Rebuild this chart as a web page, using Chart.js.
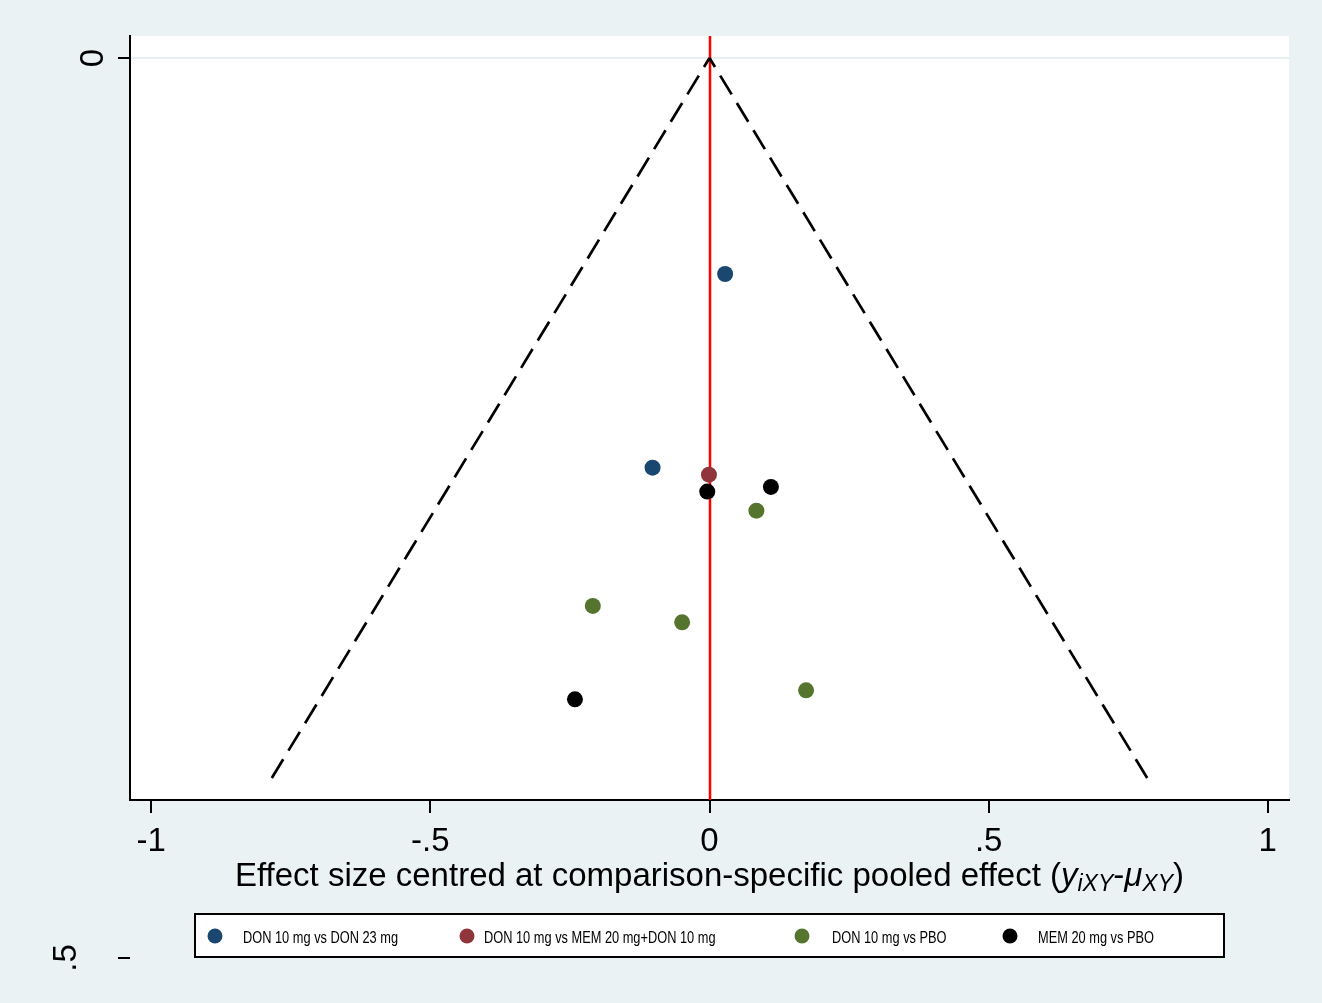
<!DOCTYPE html>
<html><head><meta charset="utf-8">
<script src="https://cdn.jsdelivr.net/npm/chart.js@4"></script>
<style>html,body{margin:0;padding:0;background:#eaf2f3;} canvas{display:block}</style>
</head><body>
<canvas id="c" width="1322" height="1003"></canvas>
<script>
// ---- data ----
const seriesLabels = ['DON 10 mg vs DON 23 mg', 'DON 10 mg vs MEM 20 mg+DON 10 mg', 'DON 10 mg vs PBO', 'MEM 20 mg vs PBO'];
const seriesColors = ['#1a476f', '#90353b', '#55752f', '#000000'];
const donDon23X = [0.028, -0.102];
const donDon23Y = [0.120, 0.2276];
const donMemX = [-0.001];
const donMemY = [0.2315];
const donPboX = [0.084, -0.209, -0.049, 0.173];
const donPboY = [0.2515, 0.3044, 0.3135, 0.3513];
const memPboX = [-0.004, 0.110, -0.241];
const memPboY = [0.2409, 0.2383, 0.3563];
const funnelLeftX = [-0.784, 0];
const funnelLeftY = [0.4, 0];
const funnelRightX = [0.784, 0];
const funnelRightY = [0.4, 0];
const refX = 0;
const xTickValues = [-1, -0.5, 0, 0.5, 1];
const xTickLabels = ['-1', '-.5', '0', '.5', '1'];
const yTickValues = [0, 0.5];
const yTickLabels = ['0', '.5'];
const xRange = [-1.038, 1.038];
const yRange = [-0.01222, 0.41222];
const titleParts = [
  {t: 'Effect size centred at comparison-specific pooled effect (', it: false, sub: false},
  {t: 'y', it: true, sub: false},
  {t: 'iXY', it: true, sub: true},
  {t: '-', it: false, sub: false},
  {t: 'μ', it: true, sub: false},
  {t: 'XY', it: true, sub: true},
  {t: ')', it: false, sub: false}
];

const FONT = '"Liberation Sans", Arial, Helvetica, sans-serif';
const mk = (xs, ys) => xs.map((v, i) => ({x: v, y: ys[i]}));
const seriesData = [mk(donDon23X, donDon23Y), mk(donMemX, donMemY), mk(donPboX, donPboY), mk(memPboX, memPboY)];

const pointSets = seriesData.map((d, i) => ({
  type: 'scatter', label: seriesLabels[i], data: d,
  backgroundColor: seriesColors[i], borderColor: seriesColors[i],
  pointRadius: 8, borderWidth: 0, order: 1, isSeries: true
}));
const lineSet = (xs, ys, name) => ({
  type: 'line', label: name, data: mk(xs, ys), borderColor: '#000', borderWidth: 2.7,
  borderDash: [22, 10], pointRadius: 0, fill: false, tension: 0, order: 2
});

const bgPlugin = {
  id: 'bg',
  beforeDraw(chart) {
    const {ctx, chartArea: a} = chart;
    ctx.save();
    ctx.fillStyle = '#eaf2f3';
    ctx.fillRect(0, 0, chart.width, chart.height);
    ctx.fillStyle = '#ffffff';
    ctx.fillRect(a.left, a.top, a.right - a.left, a.bottom - a.top);
    ctx.restore();
  }
};
const refPlugin = {
  id: 'ref',
  beforeDatasetsDraw(chart) {
    const {ctx, chartArea: a, scales: {x}} = chart;
    const px = x.getPixelForValue(refX) + 0.5;
    ctx.save();
    ctx.strokeStyle = '#ff0000'; ctx.lineWidth = 2.5;
    ctx.beginPath(); ctx.moveTo(px, a.top); ctx.lineTo(px, a.bottom); ctx.stroke();
    ctx.restore();
  }
};
const annotPlugin = {
  id: 'annot',
  afterDraw(chart) {
    const {ctx, chartArea: a, scales: {x, y}} = chart;
    ctx.save();
    // y axis labels (rotated) and out-of-range tick
    const yLabelGap = [27, 54];
    yTickValues.forEach((v, i) => {
      const py = y.getPixelForValue(v);
      if (v < y.min || v > y.max) {
        ctx.strokeStyle = '#000'; ctx.lineWidth = 2;
        ctx.beginPath(); ctx.moveTo(a.left - 12, py); ctx.lineTo(a.left, py); ctx.stroke();
      }
      ctx.save();
      ctx.translate(a.left - yLabelGap[i], py);
      ctx.rotate(-Math.PI / 2);
      ctx.font = '33px ' + FONT; ctx.fillStyle = '#000';
      ctx.textAlign = 'center'; ctx.textBaseline = 'alphabetic';
      ctx.fillText(yTickLabels[i], 0, 0);
      ctx.restore();
    });
    // x axis title with subscripts
    const fontFor = p => (p.it ? 'italic ' : '') + (p.sub ? '23px ' : '33px ') + FONT;
    let total = 0;
    const widths = titleParts.map(p => { ctx.font = fontFor(p); const w = ctx.measureText(p.t).width; total += w; return w; });
    let tx = (a.left + a.right) / 2 - total / 2;
    const base = a.bottom + 86;
    ctx.fillStyle = '#000'; ctx.textAlign = 'left'; ctx.textBaseline = 'alphabetic';
    titleParts.forEach((p, i) => {
      ctx.font = fontFor(p);
      ctx.fillText(p.t, tx, base + (p.sub ? 5 : 0));
      tx += widths[i];
    });
    // legend
    const lg = {left: 195, top: 914, right: 1224, bottom: 957};
    ctx.fillStyle = '#ffffff';
    ctx.fillRect(lg.left, lg.top, lg.right - lg.left, lg.bottom - lg.top);
    ctx.strokeStyle = '#000'; ctx.lineWidth = 2;
    ctx.strokeRect(lg.left, lg.top, lg.right - lg.left, lg.bottom - lg.top);
    const markerX = [215, 467, 802, 1010];
    const textX = [243, 484, 832, 1038];
    const items = chart.data.datasets.filter(d => d.isSeries);
    items.forEach((d, i) => {
      ctx.fillStyle = d.backgroundColor;
      ctx.beginPath(); ctx.arc(markerX[i], 936, 7.5, 0, Math.PI * 2); ctx.fill();
      ctx.save();
      ctx.translate(textX[i], 943);
      ctx.scale(0.8, 1);
      ctx.font = '16px ' + FONT; ctx.fillStyle = '#000';
      ctx.textAlign = 'left'; ctx.textBaseline = 'alphabetic';
      ctx.fillText(d.label, 0, 0);
      ctx.restore();
    });
    ctx.restore();
  }
};

new Chart(document.getElementById('c'), {
  type: 'scatter',
  data: {
    datasets: [...pointSets, lineSet(funnelLeftX, funnelLeftY, 'funnel lower'), lineSet(funnelRightX, funnelRightY, 'funnel upper')]
  },
  options: {
    responsive: false, animation: false, events: [],
    layout: {padding: {left: 118, right: 33, top: 36, bottom: 0}},
    plugins: {legend: {display: false}, tooltip: {enabled: false}, title: {display: false}},
    scales: {
      x: {
        type: 'linear', min: xRange[0], max: xRange[1],
        afterBuildTicks: s => { s.ticks = xTickValues.map(v => ({value: v})); },
        afterFit: s => { s.height = 203; },
        ticks: {callback: (v, i) => xTickLabels[i], font: {size: 33, family: FONT}, color: '#000', padding: 9, autoSkip: false, maxRotation: 0},
        grid: {drawOnChartArea: false, drawTicks: true, tickLength: 13, color: '#000', lineWidth: 2},
        border: {display: true, color: '#000', width: 2}
      },
      y: {
        type: 'linear', reverse: true, min: yRange[0], max: yRange[1],
        afterBuildTicks: s => { s.ticks = yTickValues.filter(v => v >= s.min && v <= s.max).map(v => ({value: v})); },
        afterFit: s => { s.width = 12; },
        ticks: {display: false},
        grid: {color: '#e6eef1', lineWidth: 2, tickColor: '#000', tickLength: 12, drawTicks: true},
        border: {display: true, color: '#000', width: 2}
      }
    }
  },
  plugins: [bgPlugin, refPlugin, annotPlugin]
});
</script>
</body></html>
